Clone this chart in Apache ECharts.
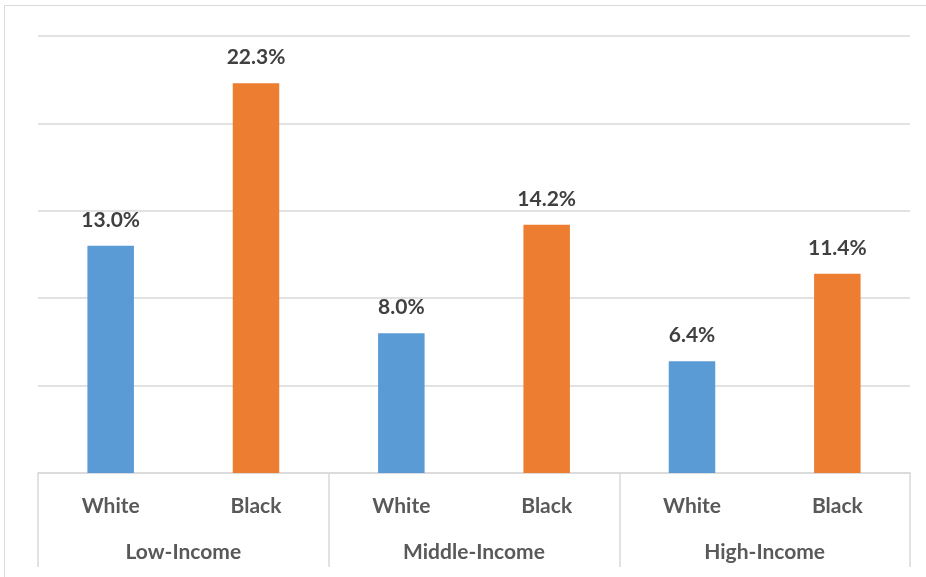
<!DOCTYPE html>
<html>
<head>
<meta charset="utf-8">
<script src="https://cdn.jsdelivr.net/npm/echarts@6/dist/echarts.min.js"></script>
<style>html,body{margin:0;padding:0;background:#fff}#c{width:926px;height:577px}</style>
</head>
<body>
<div id="c"></div>
<script>
const groups = ['Low-Income', 'Middle-Income', 'High-Income'];
const races = ['White', 'Black'];
const whiteValues = [13.0, 8.0, 6.4];
const blackValues = [22.3, 14.2, 11.4];
const colors = { White: '#5b9bd5', Black: '#ed7d31' };

const cats = [];
const data = [];
groups.forEach((g, i) => {
  cats.push('White'); data.push({ value: whiteValues[i], itemStyle: { color: colors.White } });
  cats.push('Black'); data.push({ value: blackValues[i], itemStyle: { color: colors.Black } });
});

const font = 'Lato, "Noto Sans", sans-serif';
const chart = echarts.init(document.getElementById('c'));
chart.setOption({
  animation: false,
  grid: { left: 38, right: 16, top: 36, bottom: 104 },
  graphic: [{
    type: 'rect', shape: { x: 4.5, y: 5.5, width: 1000, height: 1000 },
    style: { fill: 'none', stroke: '#d9d9d9', lineWidth: 1 }, silent: true
  }],
  xAxis: [{
    type: 'category', data: cats,
    axisLine: { show: true, lineStyle: { color: '#d9d9d9', width: 1.5 } },
    axisTick: { show: false },
    axisLabel: { margin: 23, color: '#595959', fontSize: 21, fontWeight: 'bold', fontFamily: font }
  }, {
    type: 'category', data: groups, position: 'bottom',
    axisLine: { show: false },
    axisTick: { show: true, length: 94, lineStyle: { color: '#d9d9d9', width: 1.5 } },
    axisLabel: { margin: 69, color: '#595959', fontSize: 21, fontWeight: 'bold', fontFamily: font }
  }],
  yAxis: {
    type: 'value', min: 0, max: 25, interval: 5,
    axisLabel: { show: false }, axisLine: { show: false }, axisTick: { show: false },
    splitLine: { lineStyle: { color: '#d9d9d9', width: 1.5 } }
  },
  series: [{
    type: 'bar', xAxisIndex: 0, data: data, barWidth: '32%',
    label: {
      show: true, position: 'top', distance: 15,
      formatter: p => p.value.toFixed(1) + '%',
      color: '#404040', fontSize: 21, fontWeight: 'bold', fontFamily: font
    }
  }]
});
</script>
</body>
</html>
